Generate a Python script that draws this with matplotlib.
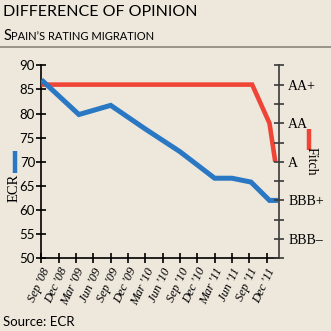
import matplotlib
matplotlib.use('Agg')
import matplotlib.pyplot as plt
from matplotlib.lines import Line2D

# months counted from Sep 2008
tick_months = list(range(0, 40, 3))
tick_labels = ["Sep '08", "Dec '08", "Mar '09", "Jun '09", "Sep '09", "Dec '09", "Mar '10",
               "Jun '10", "Sep '10", "Dec '10", "Mar '11", "Jun '11", "Sep '11", "Dec '11"]

ecr_months = [0, 6.5, 12, 18, 24, 30, 33, 36.3, 39.5, 41]
ecr_scores = [87, 79.8, 81.7, 76.8, 72.1, 66.6, 66.6, 65.8, 62, 62]

fitch_months = [0, 36.5, 39.5, 40.5]
fitch_levels = [86, 86, 78, 70]

rating_levels = [54, 62, 70, 78, 86]
rating_names = ['BBB\u2013', 'BBB+', 'A', 'AA', 'AA+']

BG = '#ede7dc'
BLUE = '#2a78c4'
RED = '#ef4536'
SANS = 'Lato'
SERIF = 'Liberation Serif'

fig = plt.figure(figsize=(3.31, 3.31), dpi=100, facecolor=BG)
ax = fig.add_axes([0.125, 0.2196, 0.7188, 0.5831])
ax.set_facecolor(BG)

ax.plot(fitch_months, fitch_levels, color=RED, lw=3.3, solid_capstyle='butt', solid_joinstyle='miter', zorder=3)
ax.plot(ecr_months, ecr_scores, color=BLUE, lw=3.6, solid_capstyle='butt', solid_joinstyle='miter', zorder=4)

ax.set_xlim(0, 41.2)
ax.set_ylim(50, 90)
ax.set_yticks(range(50, 91, 5))
ax.set_xticks(tick_months)
ax.set_xticklabels(tick_labels, rotation=65, ha='right', va='top', rotation_mode='anchor',
                   fontfamily=SERIF, fontstyle='italic', fontsize=9)
for lab in ax.get_yticklabels():
    lab.set_fontfamily(SANS)
    lab.set_fontsize(9.5)
ax.tick_params(axis='both', direction='inout', length=7, width=1.2, color='black', pad=2)
ax.tick_params(axis='y', pad=1)
for side in ['top', 'right']:
    ax.spines[side].set_visible(False)
for side in ['left', 'bottom']:
    ax.spines[side].set_linewidth(1.2)
    ax.spines[side].set_color('black')
ax.spines['bottom'].set_zorder(5)

# rating scale on the right
ax2 = ax.twinx()
ax2.set_ylim(50, 90)
notches = list(range(50, 91, 4))
ax2.set_yticks(notches)
names = dict(zip(rating_levels, rating_names))
ax2.set_yticklabels([names.get(n, '') for n in notches], fontfamily=SERIF, fontsize=10)
ax2.tick_params(axis='y', direction='inout', length=7, width=1.2, color='#3a3a3a', pad=3)
for side in ['top', 'left', 'bottom']:
    ax2.spines[side].set_visible(False)
ax2.spines['right'].set_color('#3a3a3a')
ax2.spines['right'].set_linewidth(1.2)

# series keys
fig.add_artist(Line2D([0.045, 0.045], [0.478, 0.544], color=BLUE, lw=3.2, solid_capstyle='butt'))
fig.text(0.043, 0.432, 'ECR', rotation=90, ha='center', va='center', fontfamily=SERIF, fontsize=10.5)
fig.add_artist(Line2D([0.934, 0.934], [0.547, 0.610], color=RED, lw=3.2, solid_capstyle='butt'))
fig.text(0.94, 0.512, 'Fitch', rotation=270, ha='center', va='center', fontfamily=SERIF, fontsize=10)

# heading
fig.text(0.01, 0.965, 'DIFFERENCE OF OPINION', ha='left', va='center', fontfamily=SANS, fontsize=11.5)
first = fig.text(0.01, 0.878, 'S', ha='left', va='baseline', fontfamily=SANS, fontsize=10.5)
fig.canvas.draw()
bb = first.get_window_extent(fig.canvas.get_renderer())
fig.text(bb.x1 / fig.bbox.width, 0.878, 'PAIN\u2019S RATING MIGRATION', ha='left', va='baseline',
         fontfamily=SANS, fontsize=8)
fig.add_artist(Line2D([0, 1], [0.858, 0.858], color='#8c857c', lw=1.2))

fig.text(0.01, 0.027, 'Source: ECR', ha='left', va='center', fontfamily=SANS, fontsize=9.5)

fig.savefig('out.png', dpi=100, facecolor=BG)
